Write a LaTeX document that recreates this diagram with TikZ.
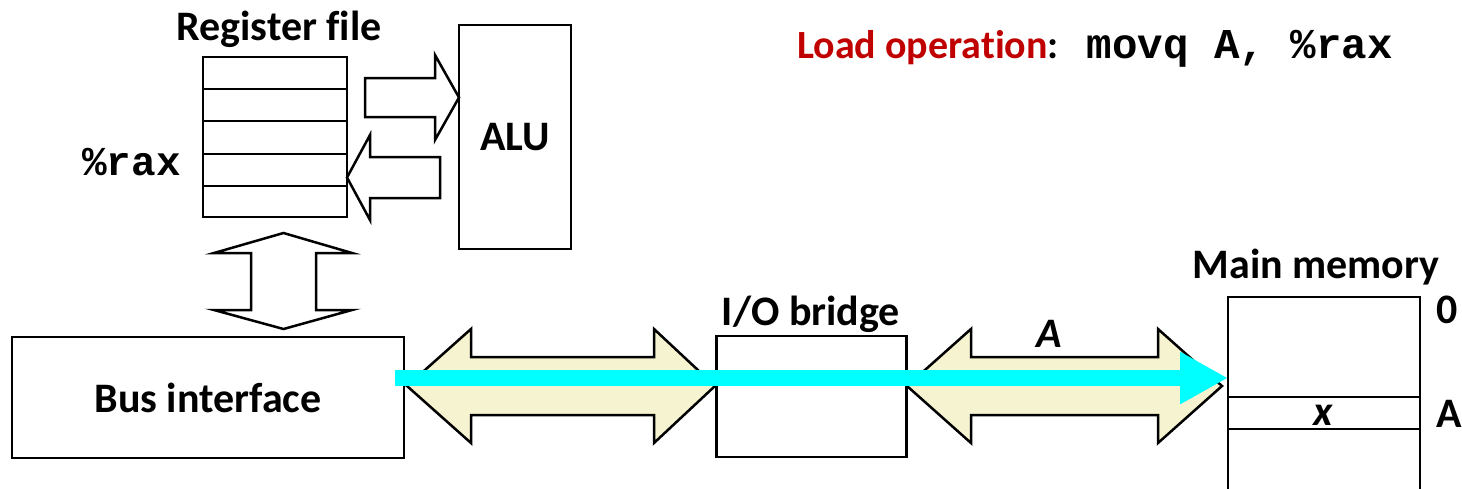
\documentclass[tikz,border=0pt]{standalone}
\usepackage{fontspec}
\setmainfont{Carlito}[Ligatures=NoCommon]
\setmonofont{Liberation Mono}
\usetikzlibrary{arrows.meta}
\definecolor{busfill}{HTML}{F6F3D0}
\definecolor{titlered}{HTML}{C00000}
\definecolor{cyanarrow}{HTML}{00FFFF}
\begin{document}
\begin{tikzpicture}[x=1pt,y=-1pt,
  box/.style={draw=black,line width=2.5pt,fill=white,inner sep=0pt,outer sep=0pt},
  lbl/.style={font=\fontsize{42}{48}\selectfont\bfseries,inner sep=0pt},
  mono/.style={font=\fontsize{41}{48}\selectfont\ttfamily\bfseries,inner sep=0pt},
  blockarrow/.style={draw=black,line width=2.5pt,fill=white,line join=miter},
  busarrow/.style={draw=black,line width=2.5pt,fill=busfill,line join=miter},
  cyanline/.style={draw=cyanarrow,line width=16pt,-{Triangle[length=48pt,width=49pt]}}
]
\useasboundingbox (0,0) rectangle (1462,488);

% Register file
\node[box,minimum width=144pt,minimum height=160pt] (rf) at (275,137) {};
\foreach \yy in {89,121,154,186}{\draw[line width=2.5pt] (rf.west|-0,\yy) -- (rf.east|-0,\yy);}
\node[lbl,anchor=base] (rflbl) at (279,40) {Register file};
\node[mono,anchor=base east] (rax) at (181,175) {\%rax};

% ALU
\node[box,minimum width=112pt,minimum height=224pt,lbl] (alu) at (515,137) {ALU};

% arrows between register file and ALU
\draw[blockarrow] (365,78) -- (435,78) -- (435,55) -- (459,97.5) -- (435,140) -- (435,117) -- (365,117) -- cycle;
\draw[blockarrow] (347,177.5) -- (370,135) -- (370,157) -- (440,157) -- (440,198) -- (370,198) -- (370,220) -- cycle;

% vertical double arrow register file <-> bus interface
\draw[blockarrow] (283.5,233) -- (352,253) -- (316,253) -- (316,310) -- (352,310) -- (283.5,329) -- (214,310) -- (251,310) -- (251,253) -- (214,253) -- cycle;

% Bus interface
\node[box,minimum width=392pt,minimum height=121pt,lbl] (bus) at (208,397.5) {Bus interface};

% I/O bridge
\node[box,minimum width=190pt,minimum height=121pt] (io) at (811.5,396.5) {};
\node[lbl,anchor=base] (iolbl) at (811,325) {I/O bridge};

% Main memory
\node[box,minimum width=192pt,minimum height=100pt] (mem) at (1324,347) {};
\node[box,minimum width=192pt,minimum height=32pt] (memA) at (1324,413) {};
\draw[line width=2.5pt] (memA.south west) -- (memA.south west|-0,490);
\draw[line width=2.5pt] (memA.south east) -- (memA.south east|-0,490);
\node[lbl,anchor=base] (memlbl) at (1316,278) {Main memory};
\node[lbl,anchor=base,font=\fontsize{42}{48}\selectfont\bfseries\itshape] (xlbl) at (1323,425) {x};
\node[lbl,anchor=base west] (zero) at (1436,323) {0};
\node[lbl,anchor=base west] (addrA) at (1436,427) {A};

% bus arrows
\draw[busarrow] (407,386) -- (471,329) -- (471,357) -- (654,357) -- (654,329) -- (715,386) -- (654,443) -- (654,415) -- (471,415) -- (471,443) -- cycle;
\draw[busarrow] (907,386) -- (971,329) -- (971,357) -- (1158,357) -- (1158,329) -- (1222,386) -- (1158,443) -- (1158,415) -- (971,415) -- (971,443) -- cycle;
\node[lbl,anchor=base,font=\fontsize{42}{48}\selectfont\bfseries\itshape] (busA) at (1049,347) {A};

% cyan data flow arrow
\coordinate (cstart) at (395,378);
\draw[cyanline] (cstart) -- (mem.west|-cstart);

% title
\node[lbl,anchor=base west,font=\fontsize{40}{48}\selectfont\bfseries] (title) at (797,58) {\textcolor{titlered}{Load operation}:\hspace{28pt}{\fontsize{42.5}{48}\selectfont\texttt{movq A, \%rax}}};
\end{tikzpicture}
\end{document}
